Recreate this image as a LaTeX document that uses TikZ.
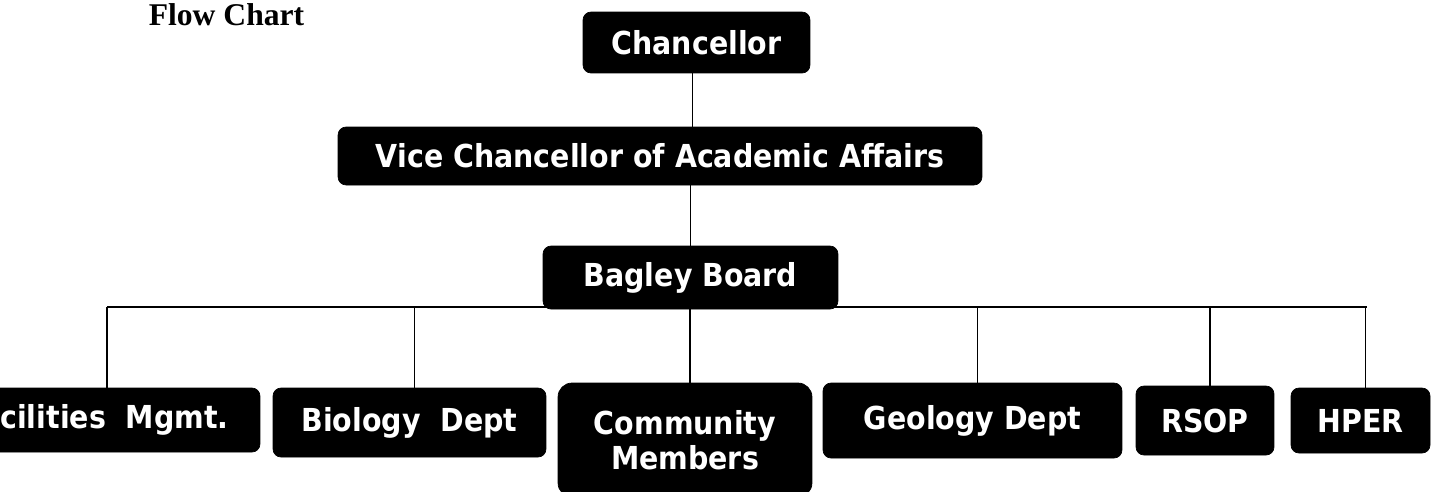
\documentclass[tikz,border=0pt]{standalone}
\usepackage{fontspec}
\setmainfont{Liberation Serif}
\setsansfont{DejaVu Sans}[FakeStretch=0.9]
\usetikzlibrary{positioning}

\begin{document}
\begin{tikzpicture}[x=0.02cm, y=-0.02cm,
  unit/.style={rectangle, draw=black, fill=black, text=white, rounded corners=0.16cm,
    inner sep=0pt, align=center, font=\sffamily\bfseries\fontsize{18}{20}\selectfont},
  link/.style={line width=0.8pt}]

\useasboundingbox (0,0) rectangle (1434,491);

\node[anchor=base, font=\bfseries\fontsize{18}{20}\selectfont] (title) at (226.5,25) {Flow Chart};

\node[unit, minimum width=4.54cm, minimum height=1.22cm] (chan) at (696.5,42.5) {Chancellor};
\node[unit, minimum width=12.88cm, minimum height=1.16cm] (vice) at (660,156) {Vice Chancellor of Academic Affairs};
\node[unit, minimum width=5.9cm, minimum height=1.26cm] (bag) at (690.5,277.5) {Bagley Board};

\node[unit, minimum width=6.56cm, minimum height=1.28cm] (fac) at (96,420) {Facilities\ \ Mgmt.};
\node[unit, minimum width=5.46cm, minimum height=1.38cm] (bio) at (409.5,422.5) {Biology\ \ Dept};
\node[unit, rounded corners=0.28cm, minimum width=5.08cm, minimum height=2.28cm] (com) at (685,440) {Community\\Members};
\node[unit, minimum width=5.98cm, minimum height=1.5cm] (geo) at (972.5,420.5) {Geology Dept};
\node[unit, minimum width=2.76cm, minimum height=1.38cm] (rsop) at (1205,420.5) {RSOP};
\node[unit, minimum width=2.78cm, minimum height=1.3cm] (hper) at (1360.5,420.5) {HPER};

\coordinate (busL) at (107,307);
\coordinate (busR) at (1367,307);

\draw[link] ([xshift=-0.08cm]chan.south) -- ([xshift=-0.08cm]chan.south |- vice.north);
\draw[link] (bag.north) -- (bag.north |- vice.south);
\draw[link] (busL) -- (busR);
\draw[link] (busL) -- (busL |- fac.north);
\foreach \n in {bio,com,geo,rsop,hper}
  \draw[link] ([xshift=0.1cm]\n.north) -- ([xshift=0.1cm]\n.north |- busL);
\end{tikzpicture}
\end{document}
